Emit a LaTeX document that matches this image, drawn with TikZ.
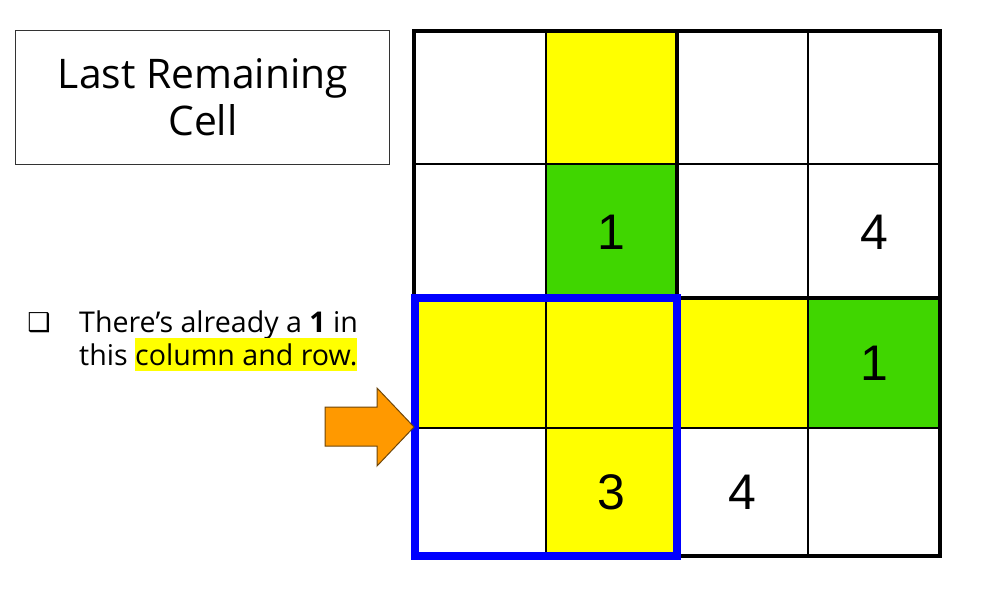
\documentclass[tikz,border=0pt]{standalone}
\usepackage{fontspec}
\setmainfont{Open Sans}
\newfontfamily\numfont{Liberation Sans}
\newfontfamily\symfont{DejaVu Sans}
\definecolor{hy}{RGB}{255,255,0}
\definecolor{gr}{RGB}{64,214,0}
\definecolor{org}{RGB}{255,153,0}
\definecolor{orgline}{RGB}{110,70,10}
\definecolor{blu}{RGB}{0,0,255}
\newcommand{\hlbox}[1]{{\setlength{\fboxsep}{0pt}\colorbox{hy}{\rule[-6pt]{0pt}{33pt}#1}}}
\tikzset{
  thinline/.style={line width=2pt,black},
  thickline/.style={line width=4pt,black},
  num/.style={font=\numfont\fontsize{50}{50}\selectfont,inner sep=0pt},
  btxt/.style={anchor=base west,inner sep=0pt,font=\fontsize{28.6}{33}\selectfont},
}
\begin{document}
\begin{tikzpicture}[x=1pt,y=-1pt]
\useasboundingbox (0,0) rectangle (997,590);
\fill[white] (0,0) rectangle (997,590);
% title
\draw[line width=1pt,black!80] (15,30) rectangle (389,164);
\node[align=center,font=\fontsize{40.8}{47}\selectfont] (title) at (203,97) {Last Remaining\\Cell};
% bullet text
\node[anchor=base,font=\symfont\fontsize{26}{26}\selectfont,inner sep=0pt] (bul) at (39,331) {❑};
\node[btxt] (line1) at (79,332) {There’s already a \textbf{1} in};
\node[btxt] (line2) at (79,365) {this \hlbox{column and row.}};
% grid fills
\fill[hy] (546,31) rectangle (677,164);
\fill[hy] (414,298) rectangle (808,428);
\fill[hy] (546,428) rectangle (677,556);
\fill[gr] (546,164) rectangle (677,298);
\fill[gr] (808,298) rectangle (940,428);
% grid lines
\draw[thinline] (546,31) -- (546,556);
\draw[thinline] (808,31) -- (808,556);
\draw[thinline] (414,164) -- (940,164);
\draw[thinline] (414,428) -- (940,428);
\draw[thickline] (677,31) -- (677,556);
\draw[thickline] (414,298) -- (940,298);
\draw[thickline] (414,31) rectangle (940,556);
% numbers
\node[num] (n1) at (611.5,232) {1};
\node[num] (n2) at (874,232) {4};
\node[num] (n3) at (874,363) {1};
\node[num] (n4) at (611.5,492) {3};
\node[num] (n5) at (742.5,492) {4};
% blue box
\draw[line width=8pt,blu] (414.5,298) rectangle (677,556);
% arrow
\draw[fill=org,draw=orgline,line width=1pt] (325,407) -- (377,407) -- (377,388) -- (414,427) -- (377,466) -- (377,446) -- (325,446) -- cycle;
\end{tikzpicture}
\end{document}
